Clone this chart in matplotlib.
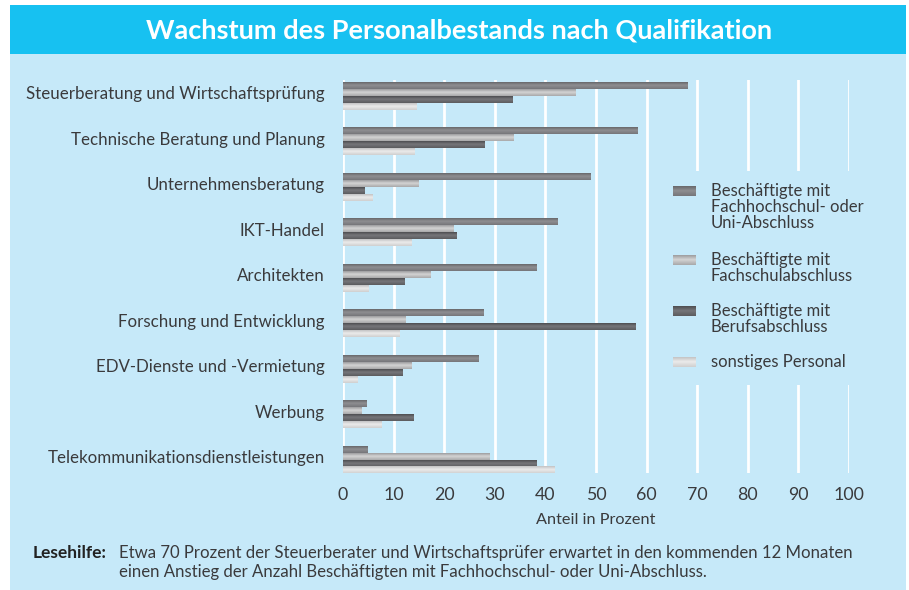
import numpy as np
import matplotlib
matplotlib.use("Agg")
import matplotlib.pyplot as plt
from matplotlib.patches import Rectangle
from matplotlib.transforms import ScaledTranslation

plt.rcParams['font.family'] = ['Lato', 'DejaVu Sans']

categories = [
    "Steuerberatung und Wirtschaftsprüfung",
    "Technische Beratung und Planung",
    "Unternehmensberatung",
    "IKT-Handel",
    "Architekten",
    "Forschung und Entwicklung",
    "EDV-Dienste und -Vermietung",
    "Werbung",
    "Telekommunikationsdienstleistungen",
]
series_labels = [
    "Beschäftigte mit\nFachhochschul- oder\nUni-Abschluss",
    "Beschäftigte mit\nFachschulabschluss",
    "Beschäftigte mit\nBerufsabschluss",
    "sonstiges Personal",
]
fh_uni      = [68.1, 58.2, 48.9, 42.3, 38.2, 27.7, 26.7, 4.7, 4.9]
fachschul   = [45.9, 33.6, 15.0, 21.9, 17.2, 12.4, 13.6, 3.7, 28.9]
berufs      = [33.4, 27.9, 4.3, 22.5, 12.2, 57.8, 11.8, 14.0, 38.3]
sonstige    = [14.6, 14.2, 5.9, 13.6, 5.1, 11.2, 2.9, 7.7, 41.7]
series = [fh_uni, fachschul, berufs, sonstige]
xticks = [0, 10, 20, 30, 40, 50, 60, 70, 80, 90, 100]

# gradient (top, middle, bottom) colours per series
grads = [
    ("#68686b", "#8f8f92", "#76767a"),
    ("#9d9d9f", "#d4d4d4", "#a9a9aa"),
    ("#4e4e51", "#76767a", "#5c5c5f"),
    ("#c3c3c4", "#ebebeb", "#d0d0d0"),
]
BG = "#c6e9f9"
BANNER = "#17c1f1"
TXT = "#3a3a3c"

W, H = 909, 590
fig = plt.figure(figsize=(W / 100, H / 100), dpi=100, facecolor="white")


def grad_img(cols, n=24):
    c = [np.array(matplotlib.colors.to_rgb(k)) for k in cols]
    t = np.linspace(0, 1, n)
    img = np.zeros((n, 1, 3))
    for i, tt in enumerate(t):
        if tt <= 0.45:
            f = tt / 0.45
            img[i, 0] = c[0] * (1 - f) + c[1] * f
        else:
            f = (tt - 0.45) / 0.55
            img[i, 0] = c[1] * (1 - f) + c[2] * f
    return img


# background axes in pixel coordinates
bg = fig.add_axes([0, 0, 1, 1])
bg.set_xlim(0, W)
bg.set_ylim(H, 0)
bg.axis("off")
bg.set_zorder(0)
bg.add_patch(Rectangle((10, 54), 896, 536, facecolor=BG, edgecolor="none"))
bg.add_patch(Rectangle((10, 5), 896, 49, facecolor=BANNER, edgecolor="none"))
bg.text(459, 31, "Wachstum des Personalbestands nach Qualifikation", color="white",
        fontsize=19.5, fontweight="bold", ha="center", va="center")
bg.text(33, 553, "Lesehilfe:", color="#222222", fontsize=12.5, fontweight="bold",
        ha="left", va="center")
bg.text(119, 553, "Etwa 70 Prozent der Steuerberater und Wirtschaftsprüfer erwartet in den kommenden 12 Monaten",
        color=TXT, fontsize=12.1, ha="left", va="center")
bg.text(119, 572, "einen Anstieg der Anzahl Beschäftigten mit Fachhochschul- oder Uni-Abschluss.",
        color=TXT, fontsize=12.1, ha="left", va="center")

# main axes
ax = fig.add_axes([343 / W, 1 - 473 / H, 506 / W, 393 / H])
ax.set_zorder(1)
ax.set_facecolor("none")
n = len(categories)
y = np.arange(n)
h = 0.154
offsets = [-1.5, -0.5, 0.5, 1.5]
for k, vals in enumerate(series):
    cont = ax.barh(y + offsets[k] * h, vals, height=h, color=grads[k][1],
                   edgecolor="none", zorder=3)
    img = grad_img(grads[k])
    for p in cont.patches:
        x0, y0, w, hh = p.get_x(), p.get_y(), p.get_width(), p.get_height()
        ax.imshow(img, extent=(x0, x0 + w, y0 + hh, y0), aspect="auto",
                  interpolation="bilinear", zorder=4, origin="upper")

ax.set_xlim(0, 100)
ax.set_ylim(8.297, -0.352)
ax.set_xticks(xticks)
ax.set_xticklabels([str(t) for t in xticks])
ax.set_yticks(y)
ax.set_yticklabels(categories)
ax.tick_params(axis="x", length=0, pad=10, labelsize=12.8, labelcolor=TXT)
ax.tick_params(axis="y", length=0, pad=13, labelsize=12.2, labelcolor=TXT)
shift = ScaledTranslation(0, 3 / 100, fig.dpi_scale_trans)
for lab in ax.get_yticklabels():
    lab.set_transform(lab.get_transform() + shift)
for s in ax.spines.values():
    s.set_visible(False)
ax.grid(axis="x", color="white", linewidth=2.0, zorder=1)
ax.set_axisbelow(True)
ax.set_xlabel("Anteil in Prozent", fontsize=11.7, color=TXT, labelpad=7)

# foreground axes for legend
fg = fig.add_axes([0, 0, 1, 1])
fg.set_xlim(0, W)
fg.set_ylim(H, 0)
fg.axis("off")
fg.set_zorder(2)
fg.patch.set_visible(False)
fg.add_patch(Rectangle((662, 171), 200, 214, facecolor=BG, edgecolor="none", zorder=1))
leg_tops = [191, 260, 311, 362]
for k, lab in enumerate(series_labels):
    yc = leg_tops[k]
    fg.imshow(grad_img(grads[k]), extent=(673, 696, yc + 5, yc - 5), aspect="auto",
              interpolation="bilinear", origin="upper", zorder=3)
    fg.text(711, yc - 8, lab, fontsize=12, color=TXT, ha="left", va="top",
            linespacing=1.0, zorder=3)
fg.set_xlim(0, W)
fg.set_ylim(H, 0)

fig.savefig("out.png", dpi=100, facecolor="white")
